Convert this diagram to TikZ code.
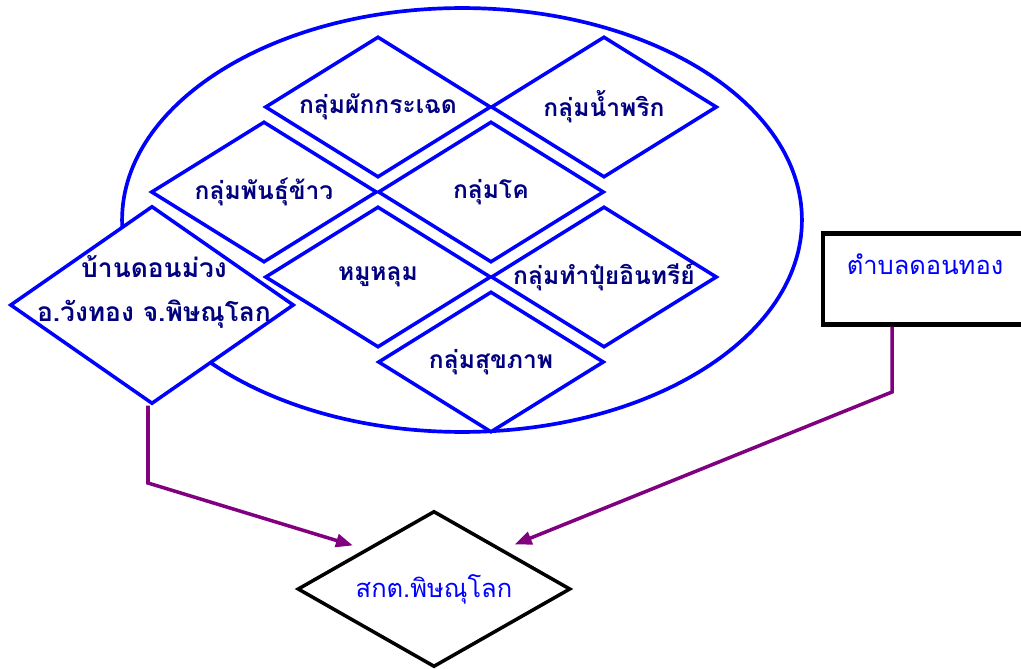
\documentclass[tikz,border=0pt]{standalone}
\usepackage{fontspec}
\newfontfamily\thaifont[Script=Thai]{Loma}
\usepackage{tikz}
\usetikzlibrary{arrows.meta,
                shapes.geometric}
\definecolor{navytext}{RGB}{0,0,128}
\definecolor{linkpurple}{RGB}{128,0,128}
\newcommand\ctext[1]{\makebox[0pt]{#1}}

\begin{document}
\begin{tikzpicture}[x=0.02cm,y=-0.02cm,
group/.style={diamond,
draw=blue,
fill=white,
line width=2pt,
inner sep=0pt,
minimum width=4.52cm,
minimum height=2.82cm,
text=navytext,
font=\thaifont\bfseries\fontsize{14}{16}\selectfont},
link/.style={draw=linkpurple,
line width=2pt,
shorten >=0.25cm,
-{Triangle[length=3.4mm,width=2.6mm]}}]

\useasboundingbox (0,0) rectangle (1021,669);

% Village circle
\draw[blue,line width=2.1pt]
(462,220) ellipse [x radius=6.8cm, y radius=4.24cm];

% Groups
\node[group] (pakkrachet) at (378,107) {\ctext{กลุ่มผักกระเฉด}};
\node[group] (namphrik) at (604,107) {\ctext{กลุ่มน้ำพริก}};
\node[group] (phankhao) at (264,192) {\ctext{กลุ่มพันธุ์ข้าว}};
\node[group] (kho) at (491,192) {\ctext{กลุ่มโค}};
\node[group] (mulum) at (378,277) {\ctext{หมูหลุม}};
\node[group] (pui) at (604,277) {\ctext{กลุ่มทำปุ๋ยอินทรีย์}};
\node[group] (sukhaphap) at (491,362) {\ctext{กลุ่มสุขภาพ}};

% Village
\node[group,
minimum width=5.68cm,
minimum height=3.96cm] (donmuang) at (152,305) {};
\node[text=navytext,
align=center,
font=\thaifont\bfseries\fontsize{15}{25}\selectfont]
(donmuangtext) at (154,292)
{บ้านดอนม่วง\\อ.วังทอง จ.พิษณุโลก};

% Sub-district
\node[draw=black,
line width=2.4pt,
minimum width=4.08cm,
minimum height=1.82cm,
text height=0.45cm,
text depth=0.63cm,
text=blue,
font=\thaifont\fontsize{14.5}{16}\selectfont]
(tambon) at (925,279) {ตำบลดอนทอง};

% Target
\node[diamond,
draw=black,
line width=2pt,
inner sep=0pt,
minimum width=5.46cm,
minimum height=3.12cm,
text=blue,
font=\thaifont\fontsize{14.5}{16}\selectfont]
(skt) at (434,589) {\ctext{สกต.พิษณุโลก}};

% Links
\coordinate (bendl) at (148,483);
\coordinate (bendr) at (892,392);
\draw[link] (bendl |- donmuang.south) -- (bendl) -- (skt.north west);
\draw[link] (bendr |- tambon.south) -- (bendr) -- (skt.north east);

\end{tikzpicture}
\end{document}
